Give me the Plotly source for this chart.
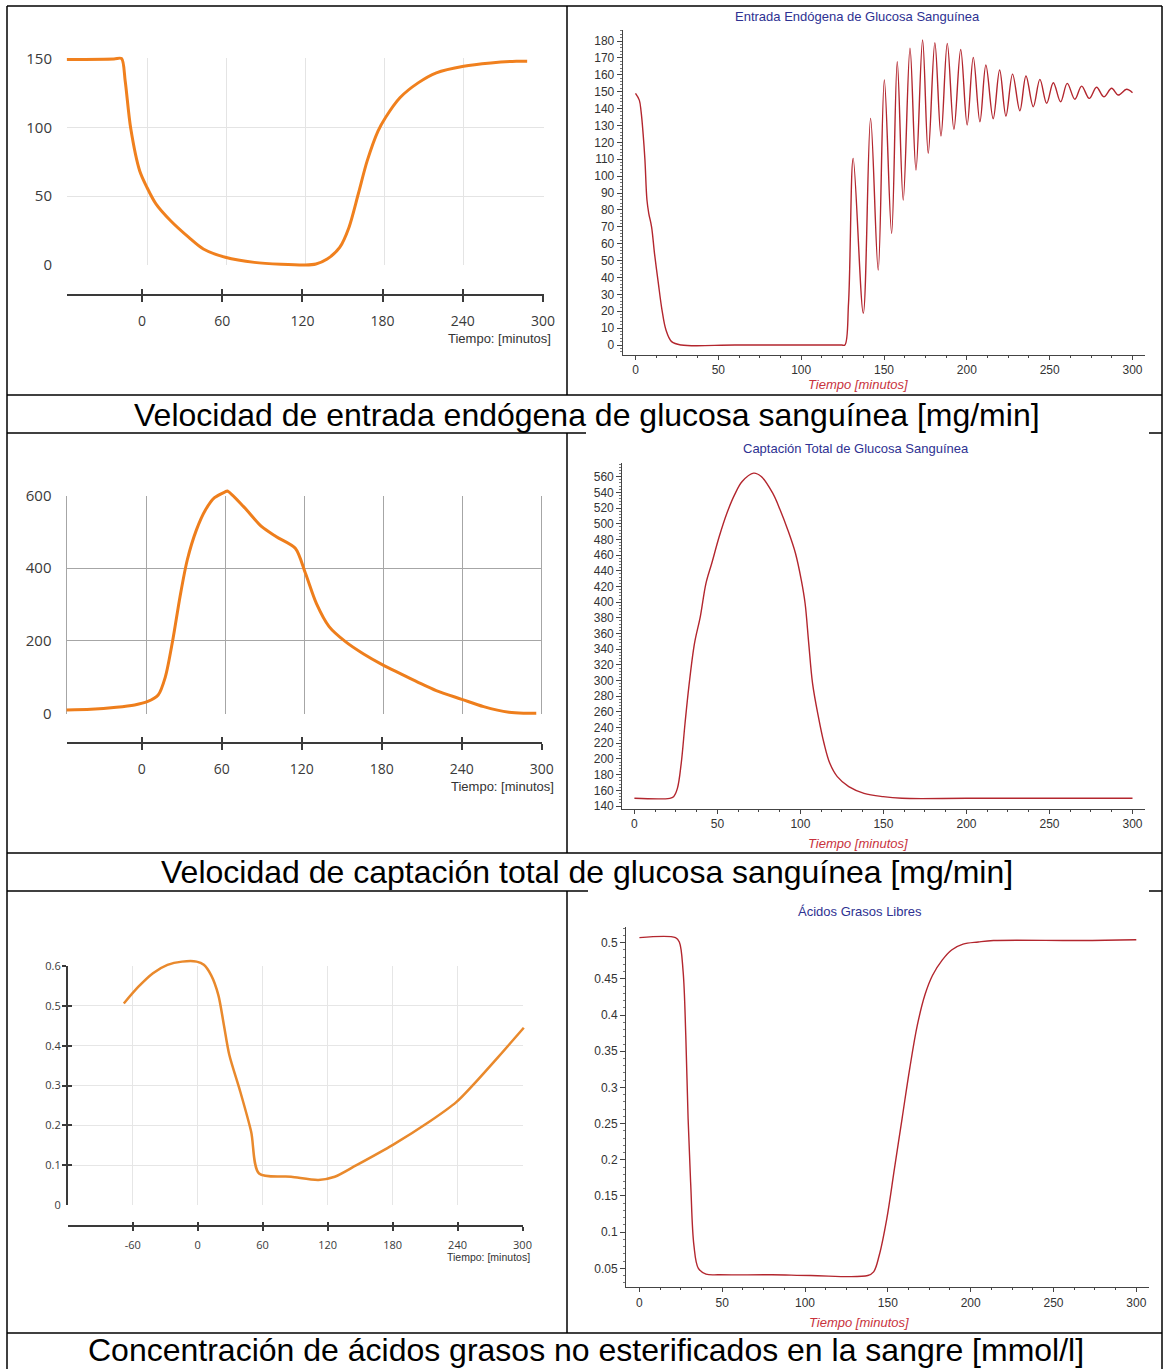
import plotly.graph_objects as go

W, H = 1164, 1369

# ---------------- DATA ----------------
# Left column: reference curves (orange)
ref_entrada_t = [-60.7, -25.0, -19.3, -16.5, -12.4, -5.5, 0.0, 6.9, 17.9, 31.7, 42.7, 59.3, 81.3, 120.0,
                 128.0, 136.5, 146.0, 153.0, 160.0, 166.8, 175.0, 180.6, 191.6, 205.4, 219.2, 239.9,
                 260.5, 279.8, 288.0]
ref_entrada_v = [149.3, 149.7, 150.0, 133.5, 99.7, 68.3, 56.3, 44.2, 32.1, 20.0, 11.6, 5.6, 1.9, 0.0,
                 0.7, 4.3, 12.8, 27.3, 51.4, 75.6, 97.3, 107.0, 121.5, 132.3, 139.6, 144.4,
                 146.8, 148.0, 148.0]

ref_captacion_t = [-60.5, -42.0, -22.7, -8.8, 0.8, 9.1, 14.6, 20.2, 25.7, 31.2, 38.1, 45.0, 51.9, 60.2,
                   61.6, 74.0, 87.8, 98.9, 113.3, 121.0, 129.3, 139.0, 151.4, 165.2, 179.0, 192.8,
                   206.6, 220.4, 239.8, 256.4, 275.7, 286.7, 296.4]
ref_captacion_v = [9.2, 11.0, 16.5, 23.0, 32.0, 50.5, 101.0, 202.0, 321.6, 422.7, 505.0, 560.5, 594.5, 611.0,
                   613.0, 570.0, 514.6, 487.0, 455.0, 386.0, 303.0, 239.0, 197.6, 163.6, 135.0, 110.0,
                   85.5, 62.5, 38.6, 18.4, 2.8, 0.0, 0.0]

ref_agl_t = [-68.2, -54.7, -41.3, -27.9, -14.4, -1.0, 5.7, 12.4, 19.1, 24.2, 29.2, 39.3, 49.4, 56.7,
             86.3, 111.5, 126.6, 146.7, 180.3, 213.9, 239.1, 254.2, 277.7, 301.2]
ref_agl_v = [0.506, 0.548, 0.582, 0.603, 0.611, 0.611, 0.603, 0.577, 0.527, 0.452, 0.377, 0.285, 0.184, 0.079,
             0.071, 0.063, 0.071, 0.100, 0.151, 0.209, 0.259, 0.301, 0.372, 0.445]

# Right column: simulated curves (red)
sim_entrada_t = [0.0, 2.3, 3.4, 4.6, 5.7, 6.9, 8.0, 9.7, 11.5, 13.8, 16.0, 18.4, 21.8, 27.6, 60.0, 100.0,
                 120.0, 124.5, 126.4, 128.6, 131.4, 137.5, 141.9, 146.5, 150.2, 154.6, 158.0, 161.6,
                 165.7, 169.3, 173.3, 176.7, 180.7, 184.4, 188.2, 192.2, 196.3, 200.2, 203.9, 207.9,
                 211.5, 215.9, 219.8, 223.6, 227.6, 232.0, 235.7, 240.1, 244.1, 248.2, 252.2, 256.6,
                 260.6, 265.2, 269.3, 273.9, 278.3, 282.7, 287.4, 291.4, 296.4, 300.0]
sim_entrada_v = [149.0, 145.0, 138.0, 125.0, 109.5, 86.0, 78.0, 70.0, 54.0, 36.5, 20.7, 8.9, 2.0, 0.0, 0.0, 0.0,
                 0.0, 0.0, 0.0, 25.0, 110.5, 18.8, 134.2, 44.4, 156.9, 66.1, 167.7, 85.8,
                 175.7, 103.6, 180.6, 113.5, 179.0, 123.7, 178.6, 127.7, 175.0, 130.3, 170.3, 132.2,
                 165.8, 134.0, 162.8, 135.6, 160.4, 138.7, 159.3, 141.1, 157.3, 143.1, 155.3, 144.0,
                 154.9, 145.5, 153.3, 146.0, 152.6, 147.0, 152.0, 148.0, 151.4, 149.4]

sim_captacion_t = [0.0, 21.3, 23.6, 25.9, 28.2, 30.5, 32.8, 36.2, 39.7, 43.1, 46.6, 51.1, 55.7, 60.3, 64.9,
                   71.8, 76.4, 83.3, 87.8, 92.4, 97.0, 100.5, 102.8, 105.0, 107.3, 110.8, 114.2, 117.7,
                   122.2, 129.1, 138.3, 149.8, 161.2, 200.0, 250.0, 300.0]
sim_captacion_v = [149.8, 149.8, 151.9, 162.5, 194.4, 245.5, 292.3, 347.5, 381.6, 424.0, 449.6, 483.7, 513.4,
                   536.8, 553.8, 564.5, 560.2, 539.0, 517.6, 492.1, 462.4, 428.4, 398.6, 347.5, 296.5,
                   254.0, 220.0, 194.4, 177.4, 164.7, 156.2, 151.9, 149.8, 149.8, 149.8, 149.8]

sim_agl_t = [0.0, 21.8, 24.1, 26.4, 28.0, 29.4, 31.0, 32.9, 35.6, 40.2, 48.3, 80.0, 103.4, 137.9, 141.4,
             144.8, 149.4, 154.0, 158.6, 163.2, 167.8, 172.4, 177.0, 182.8, 188.5, 195.4, 204.6, 213.8,
             266.7, 300.0]
sim_agl_v = [0.507, 0.507, 0.501, 0.460, 0.372, 0.257, 0.165, 0.082, 0.050, 0.042, 0.041, 0.041, 0.040, 0.040,
             0.045, 0.068, 0.119, 0.188, 0.257, 0.326, 0.386, 0.428, 0.455, 0.476, 0.490, 0.498, 0.501,
             0.503, 0.503, 0.504]

# Tick labels
ticks_ref = [0, 60, 120, 180, 240, 300]
ticks_ref_agl = [-60, 0, 60, 120, 180, 240, 300]
yticks_ref_entrada = [0, 50, 100, 150]
yticks_ref_captacion = [0, 200, 400, 600]
yticks_ref_agl = [0, 0.1, 0.2, 0.3, 0.4, 0.5, 0.6]
yticktext_ref_agl = ['0', '0.1', '0.2', '0.3', '0.4', '0.5', '0.6']
yticks_sim_agl = [0.05, 0.1, 0.15, 0.2, 0.25, 0.3, 0.35, 0.4, 0.45, 0.5]
yticktext_sim_agl = ['0.05', '0.1', '0.15', '0.2', '0.25', '0.3', '0.35', '0.4', '0.45', '0.5']

captions = ["Velocidad de entrada endógena de glucosa sanguínea [mg/min]",
            "Velocidad de captación total de glucosa sanguínea [mg/min]",
            "Concentración de ácidos grasos no esterificados en la sangre [mmol/l]"]
sim_titles = ["Entrada Endógena de Glucosa Sanguínea",
              "Captación Total de Glucosa Sanguínea",
              "Ácidos Grasos Libres"]
ref_xtitle = "Tiempo: [minutos]"
sim_xtitle = "Tiempo [minutos]"

# ---------------- helpers ----------------
def lin(a, pa, b, pb, p):
    return a + (p - pa) * (b - a) / (pb - pa)

def xdom(p0, p1):
    return [p0 / W, p1 / W]

def ydom(top, bot):
    return [1 - bot / H, 1 - top / H]

def xrng(m, p0, p1):
    return [lin(*m, p0), lin(*m, p1)]

def yrng(m, top, bot):
    return [lin(*m, bot), lin(*m, top)]

def key(letter, n):
    return f'{letter}axis' if n == 1 else f'{letter}axis{n}'

def ref(letter, n):
    return letter if n == 1 else f'{letter}{n}'

fig = go.Figure()
layout = {}
ann = []
shapes = []

AX = '#3a3a3a'
ORANGE_FONT = 'Open Sans'

def hidden(t, v, xa, ya):
    fig.add_trace(go.Scatter(x=t, y=v, xaxis=xa, yaxis=ya, mode='lines', line=dict(width=0),
                             opacity=0, hoverinfo='skip', showlegend=False))

def left_chart(ng, nd, no1, no2, t, v, color, lw, xm_grid, xm_axis, ym, gx, gy, dx, dy,
               axis_py, xt, yt, ytt, gridcolor, yfs, xfs, tick_half, tickw, standoff,
               box_left=False, ynum=None):
    layout[key('x', ng)] = dict(domain=xdom(*gx), range=xrng(xm_grid, *gx), anchor=ref('y', ng),
                                tickmode='array', tickvals=xt, showticklabels=False, ticks='',
                                showgrid=True, gridcolor=gridcolor, gridwidth=1, zeroline=False,
                                showline=False)
    ydict = dict(domain=ydom(*gy), range=yrng(ym, *gy), anchor=ref('x', ng), tickmode='array',
                 tickvals=yt, ticktext=ytt, ticks='outside', ticklen=(11 if ynum is None else 4),
                 tickcolor='rgba(0,0,0,0)', tickfont=dict(family=ORANGE_FONT, size=yfs, color='#3a3a3a'),
                 showgrid=True, gridcolor=gridcolor, gridwidth=1, zeroline=False,
                 showline=box_left, linecolor=gridcolor, linewidth=1)
    layout[key('y', ng)] = ydict
    # data subplot (larger, invisible axes, same scale)
    layout[key('x', nd)] = dict(domain=xdom(*dx), range=xrng(xm_grid, *dx), anchor=ref('y', nd), visible=False)
    layout[key('y', nd)] = dict(domain=ydom(*dy), range=yrng(ym, *dy), anchor=ref('x', nd), visible=False)
    # detached time axis (crossing ticks)
    common = dict(overlaying=ref('x', ng), anchor='free', position=1 - axis_py / H,
                  range=xrng(xm_axis, *gx), tickmode='array', tickvals=xt,
                  ticktext=[str(x) for x in xt], showgrid=False, zeroline=False,
                  tickcolor=AX, tickwidth=tickw, ticklen=tick_half)
    layout[key('x', no1)] = dict(**common, ticks='outside', showline=True, linecolor=AX, linewidth=tickw,
                                 showticklabels=True, ticklabelstandoff=standoff,
                                 tickfont=dict(family=ORANGE_FONT, size=xfs, color='#3a3a3a'))
    layout[key('x', no2)] = dict(**common, ticks='inside', showline=False, showticklabels=False)
    hidden(t, v, ref('x', ng), ref('y', ng))
    if ynum is None:
        hidden(t, v, ref('x', no1), ref('y', ng))
        hidden(t, v, ref('x', no2), ref('y', ng))
    else:
        ny1, ny2 = ynum
        ycommon = dict(overlaying=ref('y', ng), anchor=ref('x', ng), side='left', range=yrng(ym, *gy),
                       tickmode='array', tickvals=yt[1:], showgrid=False, zeroline=False,
                       tickcolor=AX, tickwidth=tickw, ticklen=4, showticklabels=False)
        layout[key('y', ny1)] = dict(**ycommon, ticks='outside', showline=True, linecolor=AX, linewidth=tickw)
        layout[key('y', ny2)] = dict(**ycommon, ticks='inside', showline=False)
        hidden(t, v, ref('x', no1), ref('y', ny1))
        hidden(t, v, ref('x', no2), ref('y', ny2))
    fig.add_trace(go.Scatter(x=t, y=v, xaxis=ref('x', nd), yaxis=ref('y', nd), mode='lines',
                             line=dict(color=color, width=lw, shape='spline', smoothing=0.8),
                             hoverinfo='skip', showlegend=False))

MAPLE_AX = '#444444'
MFONT = dict(family='Liberation Sans, Arial', size=12, color='#333333')

def right_chart(n, t, v, xm, ym, gx, gy, ydtick, yminor, title, title_xy, xtitle_xy, ytickvals=None, yticktext=None):
    layout[key('x', n)] = dict(domain=xdom(*gx), range=xrng(xm, *gx), anchor=ref('y', n),
                               showline=True, linecolor=MAPLE_AX, linewidth=1, ticks='outside', ticklen=4,
                               tickcolor=MAPLE_AX, tickmode='linear', tick0=0, dtick=50,
                               minor=dict(tickmode='linear', tick0=0, dtick=12.5, ticks='outside', ticklen=2,
                                          tickcolor=MAPLE_AX),
                               showgrid=False, zeroline=False, tickfont=MFONT)
    yd = dict(domain=ydom(*gy), range=yrng(ym, *gy), anchor=ref('x', n),
              showline=True, linecolor=MAPLE_AX, linewidth=1, ticks='outside', ticklen=5,
              tickcolor=MAPLE_AX,
              minor=dict(tickmode='linear', tick0=0, dtick=yminor, ticks='outside', ticklen=2,
                         tickcolor='#777777'),
              showgrid=False, zeroline=False, tickfont=MFONT)
    if ytickvals is None:
        yd.update(tickmode='linear', tick0=0, dtick=ydtick)
    else:
        yd.update(tickmode='array', tickvals=ytickvals, ticktext=yticktext)
    layout[key('y', n)] = yd
    fig.add_trace(go.Scatter(x=t, y=v, xaxis=ref('x', n), yaxis=ref('y', n), mode='lines',
                             line=dict(color='#B3262E', width=1.4, shape='spline', smoothing=1.0),
                             hoverinfo='skip', showlegend=False))
    ann.append(dict(text=title, x=title_xy[0] / W, y=1 - title_xy[1] / H, xref='paper', yref='paper',
                    showarrow=False, xanchor='center', yanchor='middle',
                    font=dict(family='Liberation Sans, Arial', size=13, color='#2E3192')))
    ann.append(dict(text='<i>' + sim_xtitle + '</i>', x=xtitle_xy[0] / W, y=1 - xtitle_xy[1] / H,
                    xref='paper', yref='paper', showarrow=False, xanchor='center', yanchor='middle',
                    font=dict(family='Liberation Sans, Arial', size=13, color='#C8323C')))

# ---------------- charts ----------------
# Row 1 left
left_chart(1, 2, 3, 4, ref_entrada_t, ref_entrada_v, '#F0801E', 3,
           (0, 147, 300, 543), (0, 142, 300, 543), (0, 265, 150, 58.5),
           (67, 543.6), (58.3, 265.2), (55, 560), (40, 285),
           295, ticks_ref, yticks_ref_entrada, [str(x) for x in yticks_ref_entrada],
           '#E4E4E4', 15, 14, 6, 2, 7)
ann.append(dict(text=ref_xtitle, x=553 / W, y=1 - 338 / H, xref='paper', yref='paper', showarrow=False,
                xanchor='right', yanchor='middle', font=dict(family='Liberation Sans, Arial', size=13, color='#333')))

# Row 1 right
right_chart(5, sim_entrada_t, sim_entrada_v, (0, 635.5, 300, 1132.5), (0, 345, 180, 41),
            (622.7, 1145), (30, 355), 10, 2, sim_titles[0], (857, 16), (858, 385))

# Row 2 left
left_chart(6, 7, 8, 9, ref_captacion_t, ref_captacion_v, '#EE7E1C', 3,
           (0, 146.2, 300, 541), (0, 141.8, 300, 541.8), (0, 713.3, 600, 495.7),
           (66.5, 542.2), (495.5, 713.5), (55, 560), (475, 730),
           743.3, ticks_ref, yticks_ref_captacion, [str(x) for x in yticks_ref_captacion],
           '#A6A6A6', 15, 14, 6, 2, 7, box_left=True)
ann.append(dict(text=ref_xtitle, x=555.6 / W, y=1 - 786.7 / H, xref='paper', yref='paper', showarrow=False,
                xanchor='right', yanchor='middle', font=dict(family='Liberation Sans, Arial', size=13, color='#333')))

# Row 2 right
right_chart(10, sim_captacion_t, sim_captacion_v, (0, 634.4, 300, 1132.5), (140, 806, 560, 476.7),
            (622.2, 1145), (463, 809), 20, 4, sim_titles[1], (856, 448), (858, 843))

# Row 3 left
left_chart(11, 12, 13, 14, ref_agl_t, ref_agl_v, '#E9892C', 2.5,
           (-60, 132.7, 300, 522.5), (-60, 132.7, 300, 522.5), (0, 1205, 0.6, 966),
           (68, 523.0), (965.8, 1205.2), (55, 545), (945, 1215),
           1225.7, ticks_ref_agl, yticks_ref_agl, yticktext_ref_agl,
           '#E6E6E6', 11, 11, 4, 2, 5, ynum=(13, 14))
ann.append(dict(text=ref_xtitle, x=532 / W, y=1 - 1256.7 / H, xref='paper', yref='paper', showarrow=False,
                xanchor='right', yanchor='middle', font=dict(family='Liberation Sans, Arial', size=10.5, color='#333')))

# Row 3 right
right_chart(15, sim_agl_t, sim_agl_v, (0, 639.4, 300, 1136.3), (0.05, 1268.3, 0.5, 942.7),
            (626, 1149), (926.7, 1287.3), 0.05, 0.01, sim_titles[2], (859.5, 911), (859, 1322),
            ytickvals=yticks_sim_agl, yticktext=yticktext_sim_agl)

# ---------------- captions ----------------
for txt, (cx, cy) in zip(captions, [(587, 415), (587, 872), (586, 1350)]):
    ann.append(dict(text=txt, x=cx / W, y=1 - cy / H, xref='paper', yref='paper', showarrow=False,
                    xanchor='center', yanchor='middle',
                    font=dict(family='Liberation Sans, Arial', size=32, color='#000000')))

# ---------------- table borders ----------------
def hline(y, x0, x1):
    shapes.append(dict(type='line', xref='paper', yref='paper', x0=x0 / W, x1=x1 / W, y0=1 - y / H, y1=1 - y / H,
                       line=dict(color='black', width=1.5)))

def vline(x, y0, y1):
    shapes.append(dict(type='line', xref='paper', yref='paper', x0=x / W, x1=x / W, y0=1 - y0 / H, y1=1 - y1 / H,
                       line=dict(color='black', width=1.5)))

hline(6, 7, 1162)
vline(7, 6, 1369)
vline(1162, 6, 1369)
vline(567, 6, 395)
vline(567, 433, 853)
vline(567, 891, 1333)
hline(395, 7, 1162)
hline(433, 7, 586)
hline(433, 1149, 1162)
hline(853, 7, 1162)
hline(891, 7, 588)
hline(891, 1149, 1162)
hline(1333, 7, 1162)

fig.update_layout(width=W, height=H, margin=dict(l=0, r=0, t=0, b=0, pad=0, autoexpand=False),
                  paper_bgcolor='white', plot_bgcolor='rgba(0,0,0,0)', showlegend=False,
                  annotations=ann, shapes=shapes, **layout)

page_fix = (
    "var gd=document.getElementById('{plot_id}');"
    "var de=document.documentElement, b=document.body;"
    "de.style.margin='0';de.style.padding='0';de.style.overflow='hidden';"
    "b.style.margin='0';b.style.padding='0';b.style.overflow='hidden';"
    "gd.style.position='fixed';gd.style.left='0px';gd.style.top='0px';"
)

fig.write_html("out.html", config={'displayModeBar': False}, post_script=page_fix)
